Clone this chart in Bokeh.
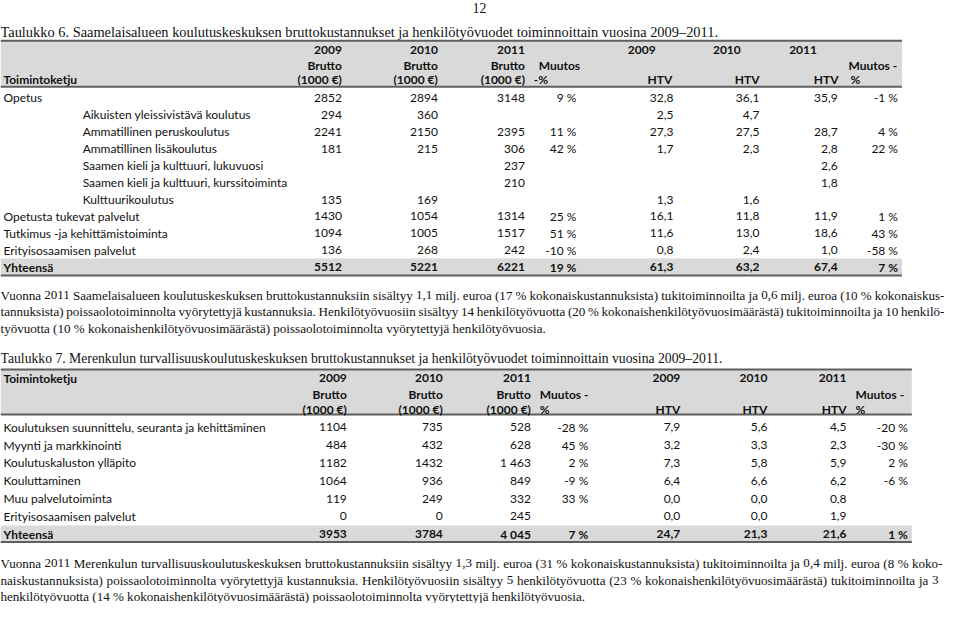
import glob
import os
from bokeh.plotting import figure
from bokeh.models import Range1d, ColumnDataSource
from bokeh.core.properties import value
from bokeh.embed import file_html
from bokeh.resources import INLINE

# ---------------- data: table 6 ----------------
t6_title = "Taulukko 6. Saamelaisalueen koulutuskeskuksen bruttokustannukset ja henkilötyövuodet toiminnoittain vuosina 2009–2011."
t6_rows = ["Opetus", "Aikuisten yleissivistävä koulutus", "Ammatillinen peruskoulutus",
           "Ammatillinen lisäkoulutus", "Saamen kieli ja kulttuuri, lukuvuosi",
           "Saamen kieli ja kulttuuri, kurssitoiminta", "Kulttuurikoulutus",
           "Opetusta tukevat palvelut", "Tutkimus -ja kehittämistoiminta",
           "Erityisosaamisen palvelut", "Yhteensä"]
t6_indent = [0, 1, 1, 1, 1, 1, 1, 0, 0, 0, 0]
t6_brutto_2009 = ["2852", "294", "2241", "181", "", "", "135", "1430", "1094", "136", "5512"]
t6_brutto_2010 = ["2894", "360", "2150", "215", "", "", "169", "1054", "1005", "268", "5221"]
t6_brutto_2011 = ["3148", "", "2395", "306", "237", "210", "", "1314", "1517", "242", "6221"]
t6_brutto_muutos = ["9 %", "", "11 %", "42 %", "", "", "", "25 %", "51 %", "-10 %", "19 %"]
t6_htv_2009 = ["32,8", "2,5", "27,3", "1,7", "", "", "1,3", "16,1", "11,6", "0,8", "61,3"]
t6_htv_2010 = ["36,1", "4,7", "27,5", "2,3", "", "", "1,6", "11,8", "13,0", "2,4", "63,2"]
t6_htv_2011 = ["35,9", "", "28,7", "2,8", "2,6", "1,8", "", "11,9", "18,6", "1,0", "67,4"]
t6_htv_muutos = ["-1 %", "", "4 %", "22 %", "", "", "", "1 %", "43 %", "-58 %", "7 %"]

# ---------------- data: table 7 ----------------
t7_title = "Taulukko 7. Merenkulun turvallisuuskoulutuskeskuksen bruttokustannukset ja henkilötyövuodet toiminnoittain vuosina 2009–2011."
t7_rows = ["Koulutuksen suunnittelu, seuranta ja kehittäminen", "Myynti ja markkinointi",
           "Koulutuskaluston ylläpito", "Kouluttaminen", "Muu palvelutoiminta",
           "Erityisosaamisen palvelut", "Yhteensä"]
t7_brutto_2009 = ["1104", "484", "1182", "1064", "119", "0", "3953"]
t7_brutto_2010 = ["735", "432", "1432", "936", "249", "0", "3784"]
t7_brutto_2011 = ["528", "628", "1 463", "849", "332", "245", "4 045"]
t7_brutto_muutos = ["-28 %", "45 %", "2 %", "-9 %", "33 %", "", "7 %"]
t7_htv_2009 = ["7,9", "3,2", "7,3", "6,4", "0,0", "0,0", "24,7"]
t7_htv_2010 = ["5,6", "3,3", "5,8", "6,6", "0,0", "0,0", "21,3"]
t7_htv_2011 = ["4,5", "2,3", "5,9", "6,2", "0,8", "1,9", "21,6"]
t7_htv_muutos = ["-20 %", "-30 %", "2 %", "-6 %", "", "", "1 %"]

years = ["2009", "2010", "2011"]
page_number = "12"

# paragraphs: lines as printed (all but the last are justified)
p1_lines = [
    "Vuonna 2011 Saamelaisalueen koulutuskeskuksen bruttokustannuksiin sisältyy 1,1 milj. euroa (17 % kokonaiskustannuksista) tukitoiminnoilta ja 0,6 milj. euroa (10 % kokonaiskus-",
    "tannuksista) poissaolotoiminnolta vyörytettyjä kustannuksia. Henkilötyövuosiin sisältyy 14 henkilötyövuotta (20 % kokonaishenkilötyövuosimäärästä) tukitoiminnoilta ja 10 henkilö-",
    "työvuotta (10 % kokonaishenkilötyövuosimäärästä) poissaolotoiminnolta vyörytettyjä henkilötyövuosia.",
]
p2_lines = [
    "Vuonna 2011 Merenkulun turvallisuuskoulutuskeskuksen bruttokustannuksiin sisältyy 1,3 milj. euroa (31 % kokonaiskustannuksista) tukitoiminnoilta ja 0,4 milj. euroa (8 % koko-",
    "naiskustannuksista) poissaolotoiminnolta vyörytettyjä kustannuksia. Henkilötyövuosiin sisältyy 5 henkilötyövuotta (23 % kokonaishenkilötyövuosimäärästä) tukitoiminnoilta ja 3",
    "henkilötyövuotta (14 % kokonaishenkilötyövuosimäärästä) poissaolotoiminnolta vyörytettyjä henkilötyövuosia.",
]

# ---------------- figure ----------------
X0, X1 = 3, 957
W, H = 944, 603
p = figure(width=W, height=H, x_range=Range1d(X0, X1), y_range=Range1d(617, 1),
           output_backend="svg", toolbar_location=None, min_border=0,
           x_axis_location=None, y_axis_location=None)
p.grid.visible = False
p.outline_line_color = None
p.background_fill_color = "white"
p.border_fill_color = "white"

SANS = "Lato"
SERIF = "Liberation Serif"
TS = "12px"
INK = "#111111"
GRAY = "#d9d9d9"
RULE = "#5f5f5f"
DX = (X1 - X0) / W  # data units per screen pixel


def txt(xs, ys, texts, align="left", bold=False, font=SANS, size=TS):
    src = ColumnDataSource(dict(x=xs, y=ys, t=texts))
    p.text(x="x", y="y", text="t", source=src, text_align=align, text_baseline="middle",
           text_font=value(font), text_font_size=size,
           text_font_style="bold" if bold else "normal", text_color=INK)


def band(x0, x1, y0, y1):
    p.quad(left=[x0], right=[x1], top=[y0], bottom=[y1], fill_color=GRAY, line_color=None)


def rule(x0, x1, y):
    p.segment(x0=[x0], x1=[x1], y0=[y], y1=[y], line_color=RULE, line_width=2)


def table_body(rows, indents, cols, xrights, y0, step, label_x):
    n = len(rows)
    ys = [y0 + step * i for i in range(n)]
    body = list(range(n - 1))
    last = n - 1
    xs = [label_x[ind] for ind in indents]
    txt([xs[i] for i in body], [ys[i] for i in body], [rows[i] for i in body])
    txt([xs[last]], [ys[last]], [rows[last]], bold=True)
    for vals, xr in zip(cols, xrights):
        txt([xr] * len(body), [ys[i] for i in body], [vals[i] for i in body], align="right")
        txt([xr], [ys[last]], [vals[last]], align="right", bold=True)
    return ys


# ---------- word widths for justified paragraph lines ----------
def find_font_file(fname):
    for root in ["/usr/share/fonts", "/usr/local/share/fonts", os.path.expanduser("~/.fonts"),
                 os.path.expanduser("~/.local/share/fonts")]:
        hits = glob.glob(os.path.join(root, "**", fname), recursive=True)
        if hits:
            return hits[0]
    return None


_measure = None
try:
    from PIL import ImageFont
    _ff = find_font_file("LiberationSerif-Regular.ttf")
    if _ff:
        _pf = ImageFont.truetype(_ff, 100)
        _measure = lambda s: _pf.getlength(s) / 100.0  # width per 1px of font size
except Exception:
    _measure = None
if _measure is None:
    _measure = lambda s: 0.43 * len(s)


def justified_size(lines_and_ends, want):
    best = want
    for line, xr in lines_and_ends:
        words = line.split(" ")
        avail_px = (xr - X0) / DX
        s = avail_px / (sum(_measure(w) for w in words) + 0.2 * (len(words) - 1))
        best = min(best, s)
    return best


def paragraph(lines, ys, ends, size):
    fs = "%.2fpx" % size
    for line, y, xr in zip(lines, ys, ends):
        if xr is None:
            txt([X0], [y], [line], font=SERIF, size=fs)
            continue
        words = line.split(" ")
        wd = [_measure(w) * size * DX for w in words]
        gap = (xr - X0 - sum(wd)) / (len(words) - 1)
        xs, x = [], X0
        for w in wd:
            xs.append(x)
            x += w + gap
        txt(xs, [y] * len(words), words, font=SERIF, size=fs)


# page number
txt([487], [9], [page_number], align="center", font=SERIF, size="14px")

# ---------- table 6 ----------
txt([3], [33], [t6_title], font=SERIF, size="14.4px")
band(3, 914, 42, 89)
rule(3, 914, 42)
rule(3, 914, 89)
h6 = [52, 67, 82]
txt([6], [h6[2]], ["Toimintoketju"], bold=True)
b6_x = [348, 445, 533]
txt(b6_x, [h6[0]] * 3, years, align="right", bold=True)
txt(b6_x, [h6[1]] * 3, ["Brutto"] * 3, align="right", bold=True)
txt(b6_x, [h6[2]] * 3, ["(1000 €)"] * 3, align="right", bold=True)
txt([547], [h6[1]], ["Muutos"], bold=True)
txt([542], [h6[2]], ["-%"], bold=True)
txt([637, 723, 800], [h6[0]] * 3, years, bold=True)
txt([682, 770, 850], [h6[2]] * 3, ["HTV"] * 3, align="right", bold=True)
txt([860], [h6[1]], ["Muutos -"], bold=True)
txt([862], [h6[2]], ["%"], bold=True)

ys6 = [100.5 + 17.3 * i for i in range(len(t6_rows))]
band(3, 914, ys6[-1] - 9, ys6[-1] + 8.5)
rule(3, 914, ys6[-1] + 8.5)
table_body(t6_rows, t6_indent,
           [t6_brutto_2009, t6_brutto_2010, t6_brutto_2011, t6_brutto_muutos,
            t6_htv_2009, t6_htv_2010, t6_htv_2011, t6_htv_muutos],
           [348, 445, 533, 585, 683, 770, 849, 910], 100.5, 17.3, {0: 6, 1: 86})

# paragraph font size shared by both paragraphs
p1_ends = [957, 957, None]
p2_ends = [955, 951, None]
PSIZE = justified_size([(l, e) for l, e in zip(p1_lines + p2_lines, p1_ends + p2_ends) if e], 13.4)

paragraph(p1_lines, [302, 319, 336], p1_ends, PSIZE)

# ---------- table 7 ----------
txt([3], [367], [t7_title], font=SERIF, size="13.7px")
band(3, 924, 378, 424)
rule(3, 924, 378)
rule(3, 924, 424)
h7 = [387, 403, 419]
txt([6], [h7[0]], ["Toimintoketju"], bold=True)
b7_x = [353, 450, 539]
txt(b7_x, [h7[0]] * 3, years, align="right", bold=True)
txt(b7_x, [h7[1]] * 3, ["Brutto"] * 3, align="right", bold=True)
txt(b7_x, [h7[2]] * 3, ["(1000 €)"] * 3, align="right", bold=True)
txt([548], [h7[1]], ["Muutos -"], bold=True)
txt([548], [h7[2]], ["%"], bold=True)
hx7 = [690, 778, 858]
txt(hx7, [h7[0]] * 3, years, align="right", bold=True)
txt(hx7, [h7[2]] * 3, ["HTV"] * 3, align="right", bold=True)
txt([867], [h7[1]], ["Muutos -"], bold=True)
txt([867], [h7[2]], ["%"], bold=True)

ys7 = [437 + 18.2 * i for i in range(len(t7_rows))]
band(3, 924, ys7[-1] - 9, ys7[-1] + 8)
rule(3, 924, ys7[-1] + 8)
table_body(t7_rows, [0] * len(t7_rows),
           [t7_brutto_2009, t7_brutto_2010, t7_brutto_2011, t7_brutto_muutos,
            t7_htv_2009, t7_htv_2010, t7_htv_2011, t7_htv_muutos],
           [353, 450, 539, 597, 690, 778, 858, 920], 437, 18.2, {0: 6})

paragraph(p2_lines, [576, 593, 610], p2_ends, PSIZE)

open("out.html", "w").write(file_html(p, INLINE))
